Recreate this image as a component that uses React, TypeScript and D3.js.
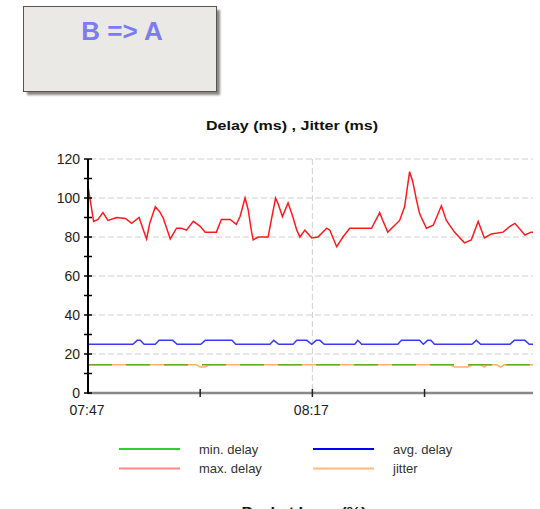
import React from "react";
import * as d3 from "d3";

const maxTimes = ["07:47:00","07:47:30","07:47:45","07:48:20","07:49:00","07:49:40","07:50:50","07:52:00","07:52:50","07:53:50","07:54:25","07:54:50","07:55:15","07:56:00","07:56:35","07:57:05","07:58:00","07:58:50","07:59:30","08:00:10","08:01:05","08:02:00","08:02:40","08:04:10","08:04:50","08:06:00","08:06:50","08:07:20","08:08:00","08:08:25","08:08:50","08:09:05","08:09:45","08:11:05","08:11:30","08:12:05","08:12:25","08:13:00","08:13:45","08:14:20","08:14:55","08:15:20","08:16:00","08:16:55","08:17:45","08:18:55","08:19:20","08:20:15","08:21:05","08:22:00","08:24:55","08:26:00","08:26:25","08:27:05","08:28:40","08:29:20","08:30:00","08:30:25","08:30:55","08:31:20","08:32:15","08:33:10","08:34:15","08:34:55","08:36:00","08:37:20","08:38:15","08:39:10","08:40:00","08:40:55","08:42:30","08:43:25","08:44:05","08:45:25","08:46:15","08:46:30"];
const maxDelay = [106,94,88,89,92.5,88.5,90,89.5,87,90,83.5,79,87,95.5,93,89.5,79,84.5,84.5,83.5,88,85.5,82.5,82.5,89,89,86.5,90.5,100,94,83.5,78.5,80,80,88.5,100,97,90.5,97.5,91,83.5,80,83.5,79.5,80,84.5,83.5,75,80,84.5,84.5,92.5,88.5,82.5,88.5,95.5,113.5,108.5,99,92,84.5,86,96,88.5,82.5,77,78.5,88,79.5,81.5,82.5,85.5,87,81,82.5,82.5];

const avgTimes = ["07:47:00","07:53:00","07:53:35","07:54:00","07:54:30","07:56:00","07:56:30","07:58:20","07:58:55","08:02:05","08:02:40","08:06:15","08:06:45","08:11:20","08:11:50","08:12:30","08:14:25","08:14:55","08:16:15","08:16:55","08:17:30","08:18:00","08:18:35","08:22:40","08:23:05","08:23:35","08:28:25","08:28:55","08:31:20","08:31:50","08:32:25","08:32:50","08:33:20","08:38:20","08:38:55","08:39:30","08:43:25","08:44:00","08:45:25","08:46:00","08:46:30"];
const avgDelay = [25,25,27,27,25,25,27,27,25,25,27,27,25,25,27,25,25,27,27,25,27,27,25,25,27,25,25,27,27,25,27,27,25,25,27,25,25,27,27,25,25];

const minTimes = ["07:47:00","08:34:00","08:36:00","08:37:20","08:38:00","08:46:30"];
const minDelay = [14.5,14.5,14.5,14,14.5,14.5];

const jitterTimes = ["07:47:00","08:01:30","08:02:00","08:02:40","08:03:10","08:35:30","08:36:00","08:37:00","08:37:50","08:38:20","08:39:30","08:40:00","08:40:20","08:41:40","08:42:10","08:42:40","08:46:30"];
const jitter = [14.5,14.5,13.3,13.3,14.5,14.5,13.3,13.3,13.3,14.5,14.5,13.3,14.5,14.5,13.3,14.5,14.5];

const yTicks = [0,10,20,30,40,50,60,70,80,90,100,110,120];
const xTicks = ["07:47","08:02","08:17","08:32"];
const xTickLabels = ["07:47","08:17"];

const legendItems = [
  { name: "min. delay", color: "#33cc33" },
  { name: "avg. delay", color: "#0000ff" },
  { name: "max. delay", color: "#ff8888" },
  { name: "jitter", color: "#ffbb77" },
];

const parseT = d3.timeParse("%H:%M:%S");
const parseHM = d3.timeParse("%H:%M");

export default function App() {
  const x = d3.scaleTime().domain([parseT("07:47:00")!, parseT("08:46:30")!]).range([88, 533]);
  const y = d3.scaleLinear().domain([0, 120]).range([393, 159]);
  const line = d3.line<[Date, number]>().x(d => x(d[0])).y(d => y(d[1]));
  const mk = (ts: string[], vs: number[]) => ts.map((t, i) => [parseT(t)!, vs[i]] as [Date, number]);
  const font = "'Liberation Sans', Arial, sans-serif";
  const [x0, x1] = x.range();
  return (
    <svg width={540} height={509} style={{ position: "absolute", left: 0, top: 0 }} fontFamily={font}>
      <defs>
        <filter id="sh" x="-10%" y="-10%" width="130%" height="130%">
          <feGaussianBlur stdDeviation="1.2" />
        </filter>
      </defs>
      <rect x={27} y={10} width={193} height={85} fill="#8a8680" filter="url(#sh)" />
      <rect x={23.5} y={6.5} width={193} height={85} fill="#ebe9e6" stroke="#555" strokeWidth={1} />
      <text x={122} y={40} textAnchor="middle" fontSize={26} fontWeight="bold" fill="#7b7bf2">B =&gt; A</text>

      <text x={292} y={130} textAnchor="middle" fontSize={12.5} fontWeight="bold" fill="#111" textLength={172} lengthAdjust="spacingAndGlyphs">Delay (ms) , Jitter (ms)</text>

      {yTicks.filter(v => v > 0 && v % 20 === 0).map(v => (
        <line key={"g" + v} x1={x0 + 2} x2={x1} y1={y(v)} y2={y(v)} stroke="#d0d0d0" strokeDasharray="6 3" />
      ))}
      {xTickLabels.slice(1).map(t => (
        <line key={"vg" + t} x1={x(parseHM(t)!)} x2={x(parseHM(t)!)} y1={y(120)} y2={y(0)} stroke="#d0d0d0" strokeDasharray="6 3" />
      ))}

      <path d={line(mk(jitterTimes, jitter))!} fill="none" stroke="#ffb070" strokeWidth={1.6} />
      <path d={line(mk(minTimes, minDelay))!} fill="none" stroke="#66aa22" strokeWidth={1.6} strokeDasharray="24 14" />
      <path d={line(mk(avgTimes, avgDelay))!} fill="none" stroke="#3a3aff" strokeWidth={1.5} />
      <path d={line(mk(maxTimes, maxDelay))!} fill="none" stroke="#ff1a1a" strokeWidth={1.5} />

      <line x1={x0} x2={x1} y1={y(0)} y2={y(0)} stroke="#888" strokeWidth={2.5} />
      {xTicks.slice(1).map(t => (
        <line key={"xt" + t} x1={x(parseHM(t)!)} x2={x(parseHM(t)!)} y1={y(0) - 4} y2={y(0) + 4} stroke="#222" strokeWidth={1.5} />
      ))}
      <line x1={x0} x2={x0} y1={y(120)} y2={y(0) + 1} stroke="#000" strokeWidth={2} />
      {yTicks.map(v => (
        <line key={"yt" + v} x1={x0 - 4} x2={x0 + 4} y1={y(v)} y2={y(v)} stroke="#000" strokeWidth={1.5} />
      ))}
      {yTicks.filter(v => v % 20 === 0).map(v => (
        <text key={"yl" + v} x={80} y={y(v) + 5} textAnchor="end" fontSize={14} fill="#222">{v}</text>
      ))}
      {xTickLabels.map(t => (
        <text key={"xl" + t} x={x(parseHM(t)!) - 1} y={415} textAnchor="middle" fontSize={14} fill="#222">{t}</text>
      ))}

      {legendItems.map((it, i) => {
        const col = i % 2, row = Math.floor(i / 2);
        const lx = col === 0 ? 119 : 313;
        const ly = 449 + row * 19.5;
        return (
          <g key={it.name}>
            <line x1={lx} x2={lx + 61} y1={ly} y2={ly} stroke={it.color} strokeWidth={2} />
            <text x={lx + 80} y={ly + 4.5} fontSize={13} fill="#333">{it.name}</text>
          </g>
        );
      })}

      <text x={304} y={516} textAnchor="middle" fontSize={12.5} fontWeight="bold" fill="#111" textLength={125} lengthAdjust="spacingAndGlyphs">Packet Loss (%)</text>
    </svg>
  );
}
